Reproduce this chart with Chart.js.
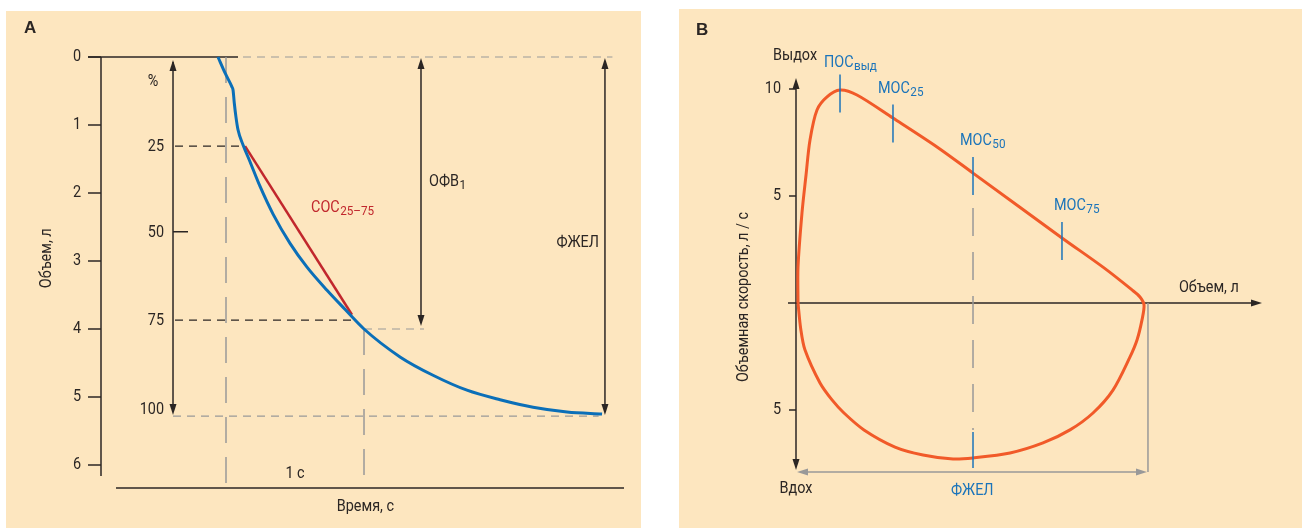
<!DOCTYPE html>
<html>
<head>
<meta charset="utf-8">
<script src="https://cdn.jsdelivr.net/npm/chart.js@4.4.1/dist/chart.umd.min.js"></script>
<style>
  body { margin: 0; background: #fff; width: 1302px; height: 528px; position: relative; overflow: hidden; }
  .panel { position: absolute; background: #fde6bf; }
  #panelA { left: 6px; top: 11px; width: 635px; height: 517px; }
  #panelB { left: 679px; top: 9px; width: 623px; height: 519px; }
  canvas { display: block; }
</style>
</head>
<body>
<div class="panel" id="panelA"><canvas id="chartA" width="635" height="517"></canvas></div>
<div class="panel" id="panelB"><canvas id="chartB" width="623" height="519"></canvas></div>
<script>
// ---- Panel A: spirogram, volume (l) against time (s)
var timeSec = [-0.058, -0.007, 0.043, 0.051, 0.060, 0.072, 0.087, 0.123, 0.174, 0.246, 0.341, 0.464, 0.587, 0.732, 0.862, 1.0, 1.261, 1.500, 1.746, 1.986, 2.225, 2.471, 2.725];
var volumeL = [0.0, 0.235, 0.44, 0.485, 0.676, 0.88, 1.07, 1.29, 1.54, 1.90, 2.31, 2.74, 3.09, 3.43, 3.71, 4.0, 4.41, 4.68, 4.90, 5.04, 5.15, 5.22, 5.25];
var socTime = [0.138, 0.913];
var socVolume = [1.31, 3.79];
var volumeTicks = [0, 1, 2, 3, 4, 5, 6];
var percentLabels = ['25', '50', '75', '100'];
var percentVolume = [1.31, 2.57, 3.87, 5.28];
var fev1Volume = 4.0;
var fvcVolume = 5.28;

// ---- Panel B: flow-volume loop, flow (l/s) against volume (l)
var loopVolume = [0.030, 0.030, 0.089, 0.149, 0.208, 0.312, 0.461, 0.654, 0.906, 1.441, 2.095, 2.630, 3.952, 4.577, 4.993, 5.111, 5.171,
  5.141, 5.067, 4.963, 4.710, 4.413, 4.071, 3.670, 3.180, 2.630, 2.333, 1.887, 1.471, 1.010, 0.713, 0.535, 0.357, 0.134, 0.070, 0.030];
var loopFlow = [0, 1.68, 4.21, 5.98, 7.62, 9.02, 9.63, 9.95, 9.72, 8.64, 7.29, 6.07, 3.04, 1.64, 0.61, 0.28, -0.09,
  -0.79, -1.73, -2.52, -4.07, -5.14, -5.93, -6.54, -7.01, -7.24, -7.29, -7.10, -6.73, -5.93, -5.14, -4.53, -3.74, -2.20, -1.20, 0];
var markerNames = ['ПОС', 'МОС', 'МОС', 'МОС'];
var markerSubs = ['выд', '25', '50', '75'];
var markerVolume = [0.654, 1.441, 2.630, 3.952];
var markerFlow = [9.79, 8.39, 5.93, 2.90];
var flowTicks = [10, 5, -5];
var fvcLoop = 5.2;
var fvcMarkFlow = -6.87;

var FONT = "Roboto, 'Liberation Sans', sans-serif";
var NARROW = 0.9;   // the original lettering is a condensed face
var INK = '#2b2624';
var GREY = '#999999';
var BLUE = '#1b74ba';

function drawLine(ctx, x1, y1, x2, y2, color, width, dash) {
  ctx.save();
  ctx.strokeStyle = color;
  ctx.lineWidth = width;
  ctx.setLineDash(dash || []);
  ctx.beginPath();
  ctx.moveTo(x1, y1);
  ctx.lineTo(x2, y2);
  ctx.stroke();
  ctx.restore();
}

function drawHead(ctx, x, y, dir, color) {
  var len = 11, half = 3.5;
  ctx.save();
  ctx.fillStyle = color;
  ctx.beginPath();
  ctx.moveTo(x, y);
  if (dir == 'up') { ctx.lineTo(x - half, y + len); ctx.lineTo(x + half, y + len); }
  if (dir == 'down') { ctx.lineTo(x - half, y - len); ctx.lineTo(x + half, y - len); }
  if (dir == 'left') { ctx.lineTo(x + len, y - half); ctx.lineTo(x + len, y + half); }
  if (dir == 'right') { ctx.lineTo(x - len, y - half); ctx.lineTo(x - len, y + half); }
  ctx.closePath();
  ctx.fill();
  ctx.restore();
}

function drawText(ctx, str, x, y, o) {
  o = o || {};
  ctx.save();
  ctx.font = (o.weight || 'normal') + ' ' + (o.size || 16) + 'px ' + (o.family || FONT);
  ctx.fillStyle = o.color || INK;
  ctx.textAlign = o.align || 'left';
  ctx.textBaseline = o.base || 'alphabetic';
  ctx.translate(x, y);
  if (o.rotate) ctx.rotate(o.rotate);
  if (!o.family) ctx.scale(NARROW, 1);
  ctx.fillText(str, 0, 0);
  ctx.restore();
}

// main text with a lowered, smaller subscript
function drawSub(ctx, main, sub, x, y, color) {
  ctx.save();
  ctx.font = '16px ' + FONT;
  var w = ctx.measureText(main).width * NARROW;
  ctx.restore();
  drawText(ctx, main, x, y, {color: color});
  drawText(ctx, sub, x + w + 0.5, y + 3, {color: color, size: 13});
}

function pts(xs, ys) {
  var out = [];
  for (var i = 0; i < xs.length; i++) out.push({x: xs[i], y: ys[i]});
  return out;
}

// ---------------- Panel A ----------------
var spiroPlugin = {
  id: 'spiro',
  beforeDatasetsDraw: function(chart) {
    var ctx = chart.ctx, a = chart.chartArea;
    var X = function(v) { return chart.scales.x.getPixelForValue(v); };
    var Y = function(v) { return chart.scales.y.getPixelForValue(v); };
    var baseV = 6.34;     // level of the time axis
    var pctT = -0.384;    // position of the % arrow
    var fev1T = 1.413, fvcT = 2.746;

    // volume axis with ticks
    drawLine(ctx, a.left, Y(0), a.left, Y(6.16), INK, 1.5);
    volumeTicks.forEach(function(v) {
      drawLine(ctx, a.left - 13, Y(v), a.left, Y(v), INK, 1.5);
      drawText(ctx, String(v), a.left - 20, Y(v), {align: 'right', base: 'middle'});
    });
    drawLine(ctx, a.left - 13, Y(0), X(0.087), Y(0), INK, 1.5);
    drawLine(ctx, X(0.123), Y(0), X(2.80), Y(0), GREY, 1.2, [8, 6]);

    // time axis
    drawLine(ctx, X(-0.797), Y(baseV), a.right, Y(baseV), INK, 1.5);
    drawText(ctx, 'Время, с', X(1.01), Y(baseV) + 23, {align: 'center'});
    drawText(ctx, 'Объем, л', a.left - 54, Y(2.96), {align: 'center', base: 'middle', rotate: -Math.PI / 2});

    // guides
    drawLine(ctx, X(0), Y(0), X(0), Y(baseV), GREY, 1.5, [26, 14]);
    drawLine(ctx, X(1), Y(fev1Volume), X(1), Y(baseV), GREY, 1.5, [26, 14]);
    drawLine(ctx, X(1), Y(fev1Volume), X(1.435), Y(fev1Volume), GREY, 1.2, [8, 6]);
    drawLine(ctx, X(pctT) + 2, Y(percentVolume[0]), X(socTime[0]), Y(percentVolume[0]), INK, 1.2, [8, 6]);
    drawLine(ctx, X(pctT) + 2, Y(percentVolume[2]), X(socTime[1]), Y(percentVolume[2]), INK, 1.2, [8, 6]);
    drawLine(ctx, X(pctT), Y(fvcVolume), X(2.70), Y(fvcVolume), GREY, 1.2, [8, 6]);
    drawText(ctx, '1 с', X(0.5), Y(baseV) - 10, {align: 'center'});

    // percent arrow
    drawLine(ctx, X(pctT), Y(0) + 5, X(pctT), Y(fvcVolume) - 4, INK, 1.5);
    drawHead(ctx, X(pctT), Y(0) + 3, 'up', INK);
    drawHead(ctx, X(pctT), Y(fvcVolume) - 1, 'down', INK);
    drawLine(ctx, X(pctT), Y(percentVolume[1]), X(pctT) + 15, Y(percentVolume[1]), INK, 1.5);
    drawText(ctx, '%', X(pctT) - 20, Y(0) + 25, {align: 'center', base: 'middle'});
    percentLabels.forEach(function(lbl, i) {
      var dy = i == percentLabels.length - 1 ? -6 : 1;
      drawText(ctx, lbl, X(pctT) - 9, Y(percentVolume[i]) + dy, {align: 'right', base: 'middle'});
    });

    // FEV1 and FVC arrows
    drawLine(ctx, X(fev1T), Y(0) + 4, X(fev1T), Y(fev1Volume) - 6, INK, 1.5);
    drawHead(ctx, X(fev1T), Y(0) + 1, 'up', INK);
    drawHead(ctx, X(fev1T), Y(fev1Volume) - 3, 'down', INK);
    drawSub(ctx, 'ОФВ', '1', X(fev1T) + 8, Y(1.90), INK);
    drawLine(ctx, X(fvcT), Y(0) + 4, X(fvcT), Y(fvcVolume) - 4, INK, 1.5);
    drawHead(ctx, X(fvcT), Y(0) + 1, 'up', INK);
    drawHead(ctx, X(fvcT), Y(fvcVolume) - 1, 'down', INK);
    drawText(ctx, 'ФЖЕЛ', X(fvcT) - 6, Y(2.79), {align: 'right'});
  },
  afterDatasetsDraw: function(chart) {
    var ctx = chart.ctx;
    var X = function(v) { return chart.scales.x.getPixelForValue(v); };
    var Y = function(v) { return chart.scales.y.getPixelForValue(v); };
    drawSub(ctx, 'СОС', '25–75', X(0.616), Y(2.28), '#c1272d');
    drawText(ctx, 'A', 18, 22, {weight: 'bold', size: 17, family: "'Liberation Sans', Arial, sans-serif"});
  }
};

new Chart(document.getElementById('chartA'), {
  type: 'scatter',
  data: {
    datasets: [
      { data: pts(timeSec, volumeL), showLine: true, borderColor: '#0b6fb8', borderWidth: 3, pointRadius: 0, cubicInterpolationMode: 'monotone', clip: false },
      { data: pts(socTime, socVolume), showLine: true, borderColor: '#c1272d', borderWidth: 2.5, pointRadius: 0, clip: false }
    ]
  },
  options: {
    responsive: false,
    animation: false,
    layout: { padding: { left: 95, right: 17, top: 46, bottom: 63 } },
    plugins: { legend: { display: false }, tooltip: { enabled: false } },
    scales: {
      x: { type: 'linear', display: false, min: -0.9058, max: 2.884 },
      y: { type: 'linear', display: false, reverse: true, min: 0, max: 6 }
    }
  },
  plugins: [spiroPlugin]
});

// ---------------- Panel B ----------------
var loopPlugin = {
  id: 'loop',
  beforeDatasetsDraw: function(chart) {
    var ctx = chart.ctx, a = chart.chartArea;
    var X = function(v) { return chart.scales.x.getPixelForValue(v); };
    var Y = function(v) { return chart.scales.y.getPixelForValue(v); };
    var fvcY = -7.90;

    // flow axis, double arrow
    drawLine(ctx, X(0), a.top + 4, X(0), a.bottom - 4, INK, 1.5);
    drawHead(ctx, X(0), a.top, 'up', INK);
    drawHead(ctx, X(0), a.bottom, 'down', INK);
    flowTicks.forEach(function(f) {
      drawLine(ctx, X(0) - 7, Y(f), X(0), Y(f), INK, 1.5);
      drawText(ctx, String(Math.abs(f)), X(0) - 15, Y(f), {align: 'right', base: 'middle'});
    });
    drawText(ctx, 'Выдох', X(0) - 1, a.top - 18, {align: 'center'});
    drawText(ctx, 'Вдох', X(0), a.bottom + 23, {align: 'center'});
    drawText(ctx, 'Объемная скорость, л / с', X(0) - 52, Y(0.28), {align: 'center', base: 'middle', rotate: -Math.PI / 2});

    // volume axis
    drawLine(ctx, X(0) - 8, Y(0), a.right - 4, Y(0), INK, 1.5);
    drawHead(ctx, a.right, Y(0), 'right', INK);
    drawText(ctx, 'Объем, л', X(5.69), Y(0) - 11);

    // FVC span
    drawLine(ctx, X(fvcLoop) + 2, Y(0), X(fvcLoop) + 2, Y(fvcY), GREY, 1.5);
    drawLine(ctx, X(0) + 4, Y(fvcY), X(fvcLoop) - 4, Y(fvcY), GREY, 1.5);
    drawHead(ctx, X(0) + 1, Y(fvcY), 'left', GREY);
    drawHead(ctx, X(fvcLoop) + 1, Y(fvcY), 'right', GREY);
    drawText(ctx, 'ФЖЕЛ', X(2.303), Y(-8.97), {color: BLUE});

    // dashed line at half the volume
    drawLine(ctx, X(markerVolume[2]), Y(4.44), X(markerVolume[2]), Y(-5.93), GREY, 1.5, [28, 16]);
  },
  afterDatasetsDraw: function(chart) {
    var ctx = chart.ctx;
    var X = function(v) { return chart.scales.x.getPixelForValue(v); };
    var Y = function(v) { return chart.scales.y.getPixelForValue(v); };
    var labelDx = [-16, -15, -13, -8];
    var labelDy = [-7, -11, -12, -12];
    markerVolume.forEach(function(v, i) {
      var x = X(v), y = Y(markerFlow[i]);
      drawLine(ctx, x, y - 19, x, y + 19, BLUE, 1.5);
      drawSub(ctx, markerNames[i], markerSubs[i], x + labelDx[i], y - 19 + labelDy[i], BLUE);
    });
    drawLine(ctx, X(markerVolume[2]), Y(fvcMarkFlow) - 18, X(markerVolume[2]), Y(fvcMarkFlow) + 18, BLUE, 1.5);
    drawText(ctx, 'B', 17, 26, {weight: 'bold', size: 17, family: "'Liberation Sans', Arial, sans-serif"});
  }
};

new Chart(document.getElementById('chartB'), {
  type: 'scatter',
  data: {
    datasets: [
      { data: pts(loopVolume, loopFlow), showLine: true, borderColor: '#f15a29', borderWidth: 3, pointRadius: 0, tension: 0.3, clip: false }
    ]
  },
  options: {
    responsive: false,
    animation: false,
    layout: { padding: { left: 117, right: 40, top: 69, bottom: 58 } },
    plugins: { legend: { display: false }, tooltip: { enabled: false } },
    scales: {
      x: { type: 'linear', display: false, min: 0, max: 6.924 },
      y: { type: 'linear', display: false, min: -7.804, max: 10.514 }
    }
  },
  plugins: [loopPlugin]
});
</script>
</body>
</html>
